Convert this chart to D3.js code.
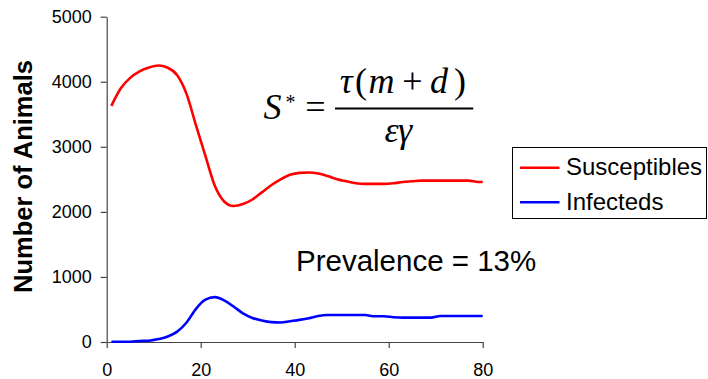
<!DOCTYPE html>
<html>
<head>
<meta charset="utf-8">
<script src="https://cdn.jsdelivr.net/npm/d3@7"></script>
<style>
  body { margin: 0; background: #fff; }
  svg { display: block; }
  .tick text { font-family: Arial, "Liberation Sans", sans-serif; font-size: 18px; fill: #000; }
</style>
</head>
<body>
<div id="chart"></div>
<script>
// time axis (days) and the two model series
const days = [1, 3, 5, 7, 9, 11, 13, 15, 17, 19, 21, 23, 25, 27, 29, 31, 33, 35, 37, 39,
  41, 43, 45, 47, 49, 51, 53, 55, 57, 59, 61, 63, 65, 67, 69, 71, 73, 75, 77, 79, 80];
const susceptibles = [3630, 3900, 4060, 4160, 4220, 4250, 4215, 4100, 3810, 3330,
  2860, 2400, 2160, 2090, 2120, 2190, 2300, 2410, 2500, 2570,
  2600, 2605, 2590, 2550, 2500, 2470, 2440, 2430, 2430, 2430,
  2440, 2460, 2470, 2480, 2480, 2480, 2480, 2480, 2480, 2460, 2460];
const infecteds = [5, 5, 5, 15, 20, 45, 85, 160, 300, 510,
  650, 690, 640, 545, 440, 370, 330, 305, 300, 320,
  340, 365, 400, 415, 415, 415, 415, 415, 395, 395,
  380, 375, 375, 375, 375, 400, 400, 400, 400, 400, 400];
const xTicks = [0, 20, 40, 60, 80];
const yTicks = [0, 1000, 2000, 3000, 4000, 5000];
const seriesNames = ['Susceptibles', 'Infecteds'];
const seriesColors = ['#ff0000', '#0000ff'];

const width = 708, height = 379;

const svg = d3.select('#chart')
  .append('svg')
  .attr('width', width)
  .attr('height', height);

const x = d3.scaleLinear().domain([0, 80]).range([106.7, 482.7]);
const y = d3.scaleLinear().domain([0, 5000]).range([342, 16.7]);

// axes
const yAxis = svg.append('g')
  .attr('transform', 'translate(106.7,0)')
  .call(d3.axisLeft(y).tickValues(yTicks).tickFormat(d3.format('d'))
    .tickSize(6).tickSizeOuter(0).tickPadding(9));
const xAxis = svg.append('g')
  .attr('transform', 'translate(0,342)')
  .call(d3.axisBottom(x).tickValues(xTicks).tickFormat(d3.format('d'))
    .tickSize(6).tickSizeOuter(0).tickPadding(15));
[yAxis, xAxis].forEach(a => {
  a.select('.domain').attr('stroke', '#444').attr('stroke-width', 1.2);
  a.selectAll('.tick line').attr('stroke', '#444').attr('stroke-width', 1.2);
});

svg.append('text')
  .attr('transform', 'translate(32,176.5) rotate(-90)')
  .attr('text-anchor', 'middle')
  .style('font-family', 'Arial, "Liberation Sans", sans-serif')
  .style('font-weight', 'bold')
  .style('font-size', '25.5px')
  .text('Number of Animals');

// lines
const line = d3.line()
  .x(d => x(d[0]))
  .y(d => y(d[1]))
  .curve(d3.curveMonotoneX);

[susceptibles, infecteds].forEach((vals, i) => {
  svg.append('path')
    .datum(days.map((d, j) => [d, vals[j]]))
    .attr('fill', 'none')
    .attr('stroke', seriesColors[i])
    .attr('stroke-width', 2.6)
    .attr('stroke-linejoin', 'round')
    .attr('d', line);
});

// legend
const legend = svg.append('g');
legend.append('rect')
  .attr('x', 512.5).attr('y', 147.5)
  .attr('width', 194).attr('height', 71)
  .attr('fill', '#fff').attr('stroke', '#000').attr('stroke-width', 1);
seriesNames.forEach((name, i) => {
  const cy = 167.7 + i * 34.6;
  legend.append('line')
    .attr('x1', 520).attr('x2', 559.5)
    .attr('y1', cy).attr('y2', cy)
    .attr('stroke', seriesColors[i]).attr('stroke-width', 2.6);
  legend.append('text')
    .attr('x', 566).attr('y', cy + 7.5)
    .style('font-family', 'Arial, "Liberation Sans", sans-serif')
    .style('font-size', '24px')
    .text(name);
});

// annotation
svg.append('text')
  .attr('x', 296).attr('y', 271)
  .style('font-family', 'Arial, "Liberation Sans", sans-serif')
  .style('font-size', '29.5px')
  .text('Prevalence = 13%');

// equation S* = tau(m+d)/(epsilon gamma)
const eq = svg.append('g')
  .style('font-family', '"Times New Roman", "Liberation Serif", serif')
  .style('font-size', '36px')
  .attr('text-anchor', 'middle');
const glyphs = [
  ['S', 272.5, 118.5, true],
  ['=', 315.5, 119, false],
  ['\u03C4', 346.3, 93.3, true],
  ['(', 361, 93.3, false],
  ['m', 381.5, 93.3, true],
  ['+', 412.5, 93.3, false],
  ['d', 439, 93.3, true],
  [')', 460, 93.3, false],
  ['\u03B5', 391.7, 141.7, true],
  ['\u03B3', 405, 141.7, true]
];
glyphs.forEach(g => {
  eq.append('text')
    .attr('x', g[1]).attr('y', g[2])
    .style('font-style', g[3] ? 'italic' : 'normal')
    .text(g[0]);
});
eq.append('text')
  .attr('x', 290.5).attr('y', 109)
  .style('font-size', '20px')
  .text('*');
eq.append('line')
  .attr('x1', 335).attr('x2', 473.3)
  .attr('y1', 108.5).attr('y2', 108.5)
  .attr('stroke', '#000').attr('stroke-width', 1.8);
</script>
</body>
</html>
